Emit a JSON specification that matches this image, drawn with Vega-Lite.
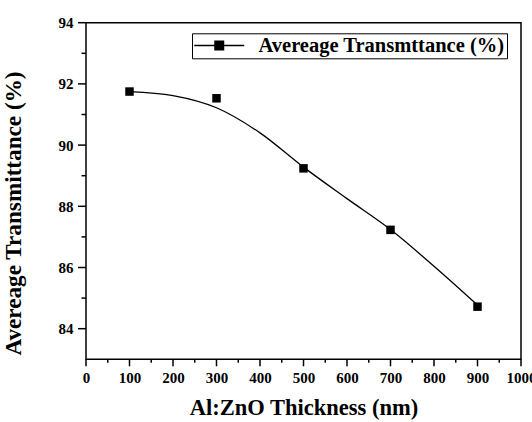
{
  "$schema": "https://vega.github.io/schema/vega-lite/v6.json",
  "width": 435,
  "height": 336.6,
  "autosize": {"type": "none"},
  "padding": {"left": 86, "top": 22.7, "right": 11, "bottom": 62.7},
  "background": "white",
  "config": {
    "view": {"stroke": "black", "strokeWidth": 1.5},
    "font": "Liberation Serif",
    "axis": {
      "grid": false,
      "ticks": false,
      "labelFont": "Liberation Serif",
      "labelFontWeight": "bold",
      "labelFontSize": 15,
      "labelColor": "black",
      "titleFont": "Liberation Serif",
      "titleFontWeight": "bold",
      "titleColor": "black"
    }
  },
  "datasets": {
    "pts": [
      {"thickness": 100, "T": 91.75, "series": "Avereage Transmttance (%)"},
      {"thickness": 300, "T": 91.53, "series": "Avereage Transmttance (%)"},
      {"thickness": 500, "T": 89.24, "series": "Avereage Transmttance (%)"},
      {"thickness": 700, "T": 87.23, "series": "Avereage Transmttance (%)"},
      {"thickness": 900, "T": 84.72, "series": "Avereage Transmttance (%)"}
    ],
    "curve": [
      {"thickness": 100, "T": 91.75},
      {"thickness": 200, "T": 91.62},
      {"thickness": 300, "T": 91.22},
      {"thickness": 400, "T": 90.4},
      {"thickness": 500, "T": 89.28},
      {"thickness": 600, "T": 88.25},
      {"thickness": 700, "T": 87.24},
      {"thickness": 800, "T": 86.04},
      {"thickness": 900, "T": 84.77}
    ],
    "xmajor": [{"v": 0}, {"v": 100}, {"v": 200}, {"v": 300}, {"v": 400}, {"v": 500}, {"v": 600}, {"v": 700}, {"v": 800}, {"v": 900}, {"v": 1000}],
    "xminor": [{"v": 50}, {"v": 150}, {"v": 250}, {"v": 350}, {"v": 450}, {"v": 550}, {"v": 650}, {"v": 750}, {"v": 850}, {"v": 950}],
    "ymajor": [{"v": 84}, {"v": 86}, {"v": 88}, {"v": 90}, {"v": 92}, {"v": 94}],
    "yminor": [{"v": 85}, {"v": 87}, {"v": 89}, {"v": 91}, {"v": 93}]
  },
  "layer": [
    {
      "data": {"name": "curve"},
      "mark": {"type": "line", "interpolate": "monotone", "color": "black", "strokeWidth": 1.3, "clip": false},
      "encoding": {
        "x": {
          "field": "thickness", "type": "quantitative",
          "scale": {"domain": [0, 1000], "nice": false},
          "axis": {
            "title": "Al:ZnO Thickness (nm)",
            "titleFontSize": 22.5,
            "titlePadding": 11,
            "values": [0, 100, 200, 300, 400, 500, 600, 700, 800, 900, 1000],
            "format": "d",
            "domain": false,
            "labelPadding": 11,
            "labelFlush": false,
            "labelOverlap": false
          }
        },
        "y": {
          "field": "T", "type": "quantitative",
          "scale": {"domain": [83, 94], "nice": false, "zero": false},
          "axis": {
            "title": "Avereage Transmittance (%)",
            "titleFontSize": 23.2,
            "titlePadding": 33,
            "titleY": 190.3,
            "values": [84, 86, 88, 90, 92, 94],
            "domain": false,
            "labelPadding": 13,
            "labelOverlap": false
          }
        }
      }
    },
    {
      "data": {"name": "xmajor"},
      "mark": {"type": "tick", "orient": "vertical", "size": 7, "thickness": 1.5, "color": "black", "opacity": 1, "yOffset": 3.5, "clip": false},
      "encoding": {
        "x": {"field": "v", "type": "quantitative"},
        "y": {"datum": 83, "type": "quantitative"}
      }
    },
    {
      "data": {"name": "xminor"},
      "mark": {"type": "tick", "orient": "vertical", "size": 3.5, "thickness": 1.5, "color": "black", "opacity": 1, "yOffset": 1.75, "clip": false},
      "encoding": {
        "x": {"field": "v", "type": "quantitative"},
        "y": {"datum": 83, "type": "quantitative"}
      }
    },
    {
      "data": {"name": "ymajor"},
      "mark": {"type": "tick", "orient": "horizontal", "size": 8, "thickness": 1.5, "color": "black", "opacity": 1, "xOffset": -4, "clip": false},
      "encoding": {
        "y": {"field": "v", "type": "quantitative"},
        "x": {"datum": 0, "type": "quantitative"}
      }
    },
    {
      "data": {"name": "yminor"},
      "mark": {"type": "tick", "orient": "horizontal", "size": 4.5, "thickness": 1.5, "color": "black", "opacity": 1, "xOffset": -2.25, "clip": false},
      "encoding": {
        "y": {"field": "v", "type": "quantitative"},
        "x": {"datum": 0, "type": "quantitative"}
      }
    },
    {
      "data": {"name": "pts"},
      "mark": {"type": "point", "shape": "square", "filled": true, "size": 72, "opacity": 1, "clip": false},
      "encoding": {
        "x": {"field": "thickness", "type": "quantitative"},
        "y": {"field": "T", "type": "quantitative"},
        "color": {
          "field": "series", "type": "nominal",
          "scale": {"range": ["black"]},
          "legend": {
            "title": null,
            "orient": "none",
            "legendX": 106,
            "legendY": 10.6,
            "strokeColor": "black",
            "padding": 2,
            "labelFont": "Liberation Serif",
            "labelFontWeight": "bold",
            "labelFontSize": 20.5,
            "labelColor": "black",
            "labelLimit": 400,
            "symbolType": "M-5,0H-0.85M0.85,0H5M-0.85,-0.85H0.85V0.85H-0.85Z",
            "symbolSize": 100,
            "symbolOffset": 15,
            "symbolStrokeWidth": 1.5,
            "symbolStrokeColor": "black",
            "symbolFillColor": "black",
            "labelOffset": 29,
            "encode": {
              "symbols": {"stroke": {"value": "black"}, "fill": {"value": "black"}, "strokeWidth": {"value": 1.5}, "opacity": {"value": 1}}
            }
          }
        }
      }
    }
  ]
}
